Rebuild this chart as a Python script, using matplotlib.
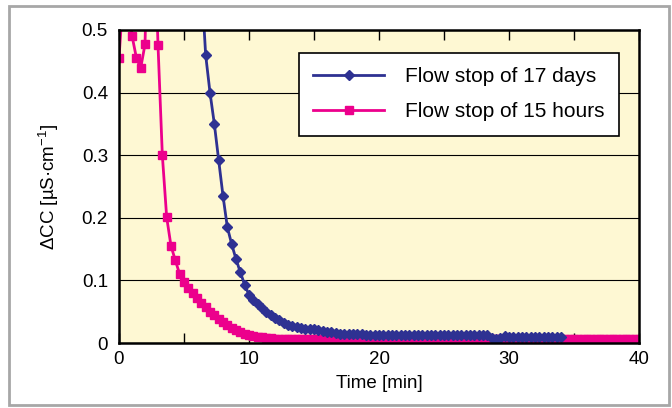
import numpy as np
import matplotlib.pyplot as plt
from matplotlib.patches import Rectangle
from matplotlib.ticker import FuncFormatter, MultipleLocator

plt.rcParams['font.family'] = ['Liberation Sans', 'DejaVu Sans']

# samples every 20 s (1/3 min)
pink_vals = [0.455, 0.56, 0.58, 0.491, 0.456, 0.439, 0.477, 0.75, 0.70, 0.476,
             0.300, 0.201, 0.155, 0.132, 0.110, 0.097, 0.088, 0.080, 0.072, 0.064,
             0.057, 0.050, 0.044, 0.038, 0.033, 0.028, 0.024, 0.021, 0.018, 0.015,
             0.013, 0.011, 0.010, 0.009, 0.008, 0.008, 0.007, 0.007, 0.007, 0.006,
             0.006, 0.006, 0.006, 0.006, 0.006, 0.006, 0.006, 0.006, 0.006, 0.006,
             0.006, 0.006, 0.006, 0.006, 0.006, 0.006, 0.006, 0.006, 0.006, 0.006,
             0.006, 0.006, 0.006, 0.006, 0.006, 0.006, 0.006, 0.006, 0.006, 0.006,
             0.006, 0.006, 0.006, 0.006, 0.006, 0.006, 0.006, 0.006, 0.006, 0.006,
             0.006, 0.006, 0.006, 0.006, 0.006, 0.006, 0.006, 0.006, 0.006, 0.006,
             0.006, 0.006, 0.006, 0.006, 0.006, 0.006, 0.006, 0.006, 0.006, 0.006,
             0.006, 0.006, 0.006, 0.006, 0.006, 0.006, 0.006, 0.006, 0.006, 0.006,
             0.006, 0.006, 0.006, 0.006, 0.006, 0.006, 0.006, 0.006, 0.006, 0.006,
             0.006]
pink_start = 0

blue_vals = [0.58, 0.46, 0.40, 0.35, 0.292, 0.235, 0.185, 0.158, 0.134, 0.113,
             0.093, 0.077, 0.069, 0.062, 0.056, 0.050, 0.045, 0.040, 0.036, 0.032,
             0.029, 0.027, 0.025, 0.024, 0.023, 0.023, 0.022, 0.021, 0.019, 0.018,
             0.017, 0.016, 0.015, 0.015, 0.014, 0.014, 0.014, 0.014, 0.013, 0.013,
             0.013, 0.013, 0.012, 0.013, 0.012, 0.013, 0.012, 0.013, 0.012, 0.013,
             0.012, 0.013, 0.012, 0.013, 0.012, 0.013, 0.012, 0.013, 0.012, 0.013,
             0.012, 0.013, 0.012, 0.013, 0.012, 0.013, 0.012, 0.008, 0.007, 0.008,
             0.011, 0.010, 0.010, 0.010, 0.010, 0.010, 0.010, 0.010, 0.010, 0.010,
             0.010, 0.010, 0.010, 0.010]
blue_start = 19  # first sample index (6.33 min)

pink_t = (pink_start + np.arange(len(pink_vals))) / 3
blue_t = (blue_start + np.arange(len(blue_vals))) / 3

blue = '#2e3192'
pink = '#ec008c'

fig = plt.figure(figsize=(6.72, 4.08), dpi=100)
fig.patches.append(Rectangle((9 / 672, 3 / 408), 660 / 672, 399 / 408, transform=fig.transFigure,
                             fill=False, edgecolor='#a7a7a7', linewidth=2))
ax = fig.add_axes([119 / 672, 65 / 408, 520 / 672, 313 / 408])
ax.set_facecolor('#fef8d3')

ax.plot(pink_t, pink_vals, color=pink, marker='s', markersize=6, linewidth=2,
        label='Flow stop of 15 hours', zorder=3)
ax.plot(blue_t, blue_vals, color=blue, marker='D', markersize=5, linewidth=2,
        label='Flow stop of 17 days', zorder=4)

ax.set_xlim(0, 40)
ax.set_ylim(0, 0.5)
ax.xaxis.set_major_locator(MultipleLocator(10))
ax.xaxis.set_minor_locator(MultipleLocator(5))
ax.yaxis.set_major_locator(MultipleLocator(0.1))
ax.yaxis.set_major_formatter(FuncFormatter(lambda v, p: '0' if abs(v) < 1e-9 else f'{v:.1f}'))
ax.grid(axis='y', color='black', linewidth=0.8)
ax.tick_params(axis='x', which='both', direction='in', top=True, length=7, width=1, labelsize=13.5, pad=6)
ax.tick_params(axis='y', length=0, labelsize=13.5, pad=8)
for s in ax.spines.values():
    s.set_linewidth(1.8)
    s.set_zorder(5)

ax.set_xlabel('Time [min]', fontsize=13.5, labelpad=5)
ax.set_ylabel(r'ΔCC [µS·cm$^{\mathregular{-1}}$]', fontsize=13.5, labelpad=15)

h, l = ax.get_legend_handles_labels()
leg = ax.legend(h[::-1], l[::-1], loc='upper right', bbox_to_anchor=(0.962, 0.927), fontsize=15,
                fancybox=False, framealpha=1, edgecolor='black', handlelength=3.4,
                borderpad=0.7, labelspacing=0.75, handletextpad=1.0, borderaxespad=0)
leg.get_frame().set_linewidth(1.2)
leg.set_zorder(6)

fig.savefig('out.png', dpi=100)
